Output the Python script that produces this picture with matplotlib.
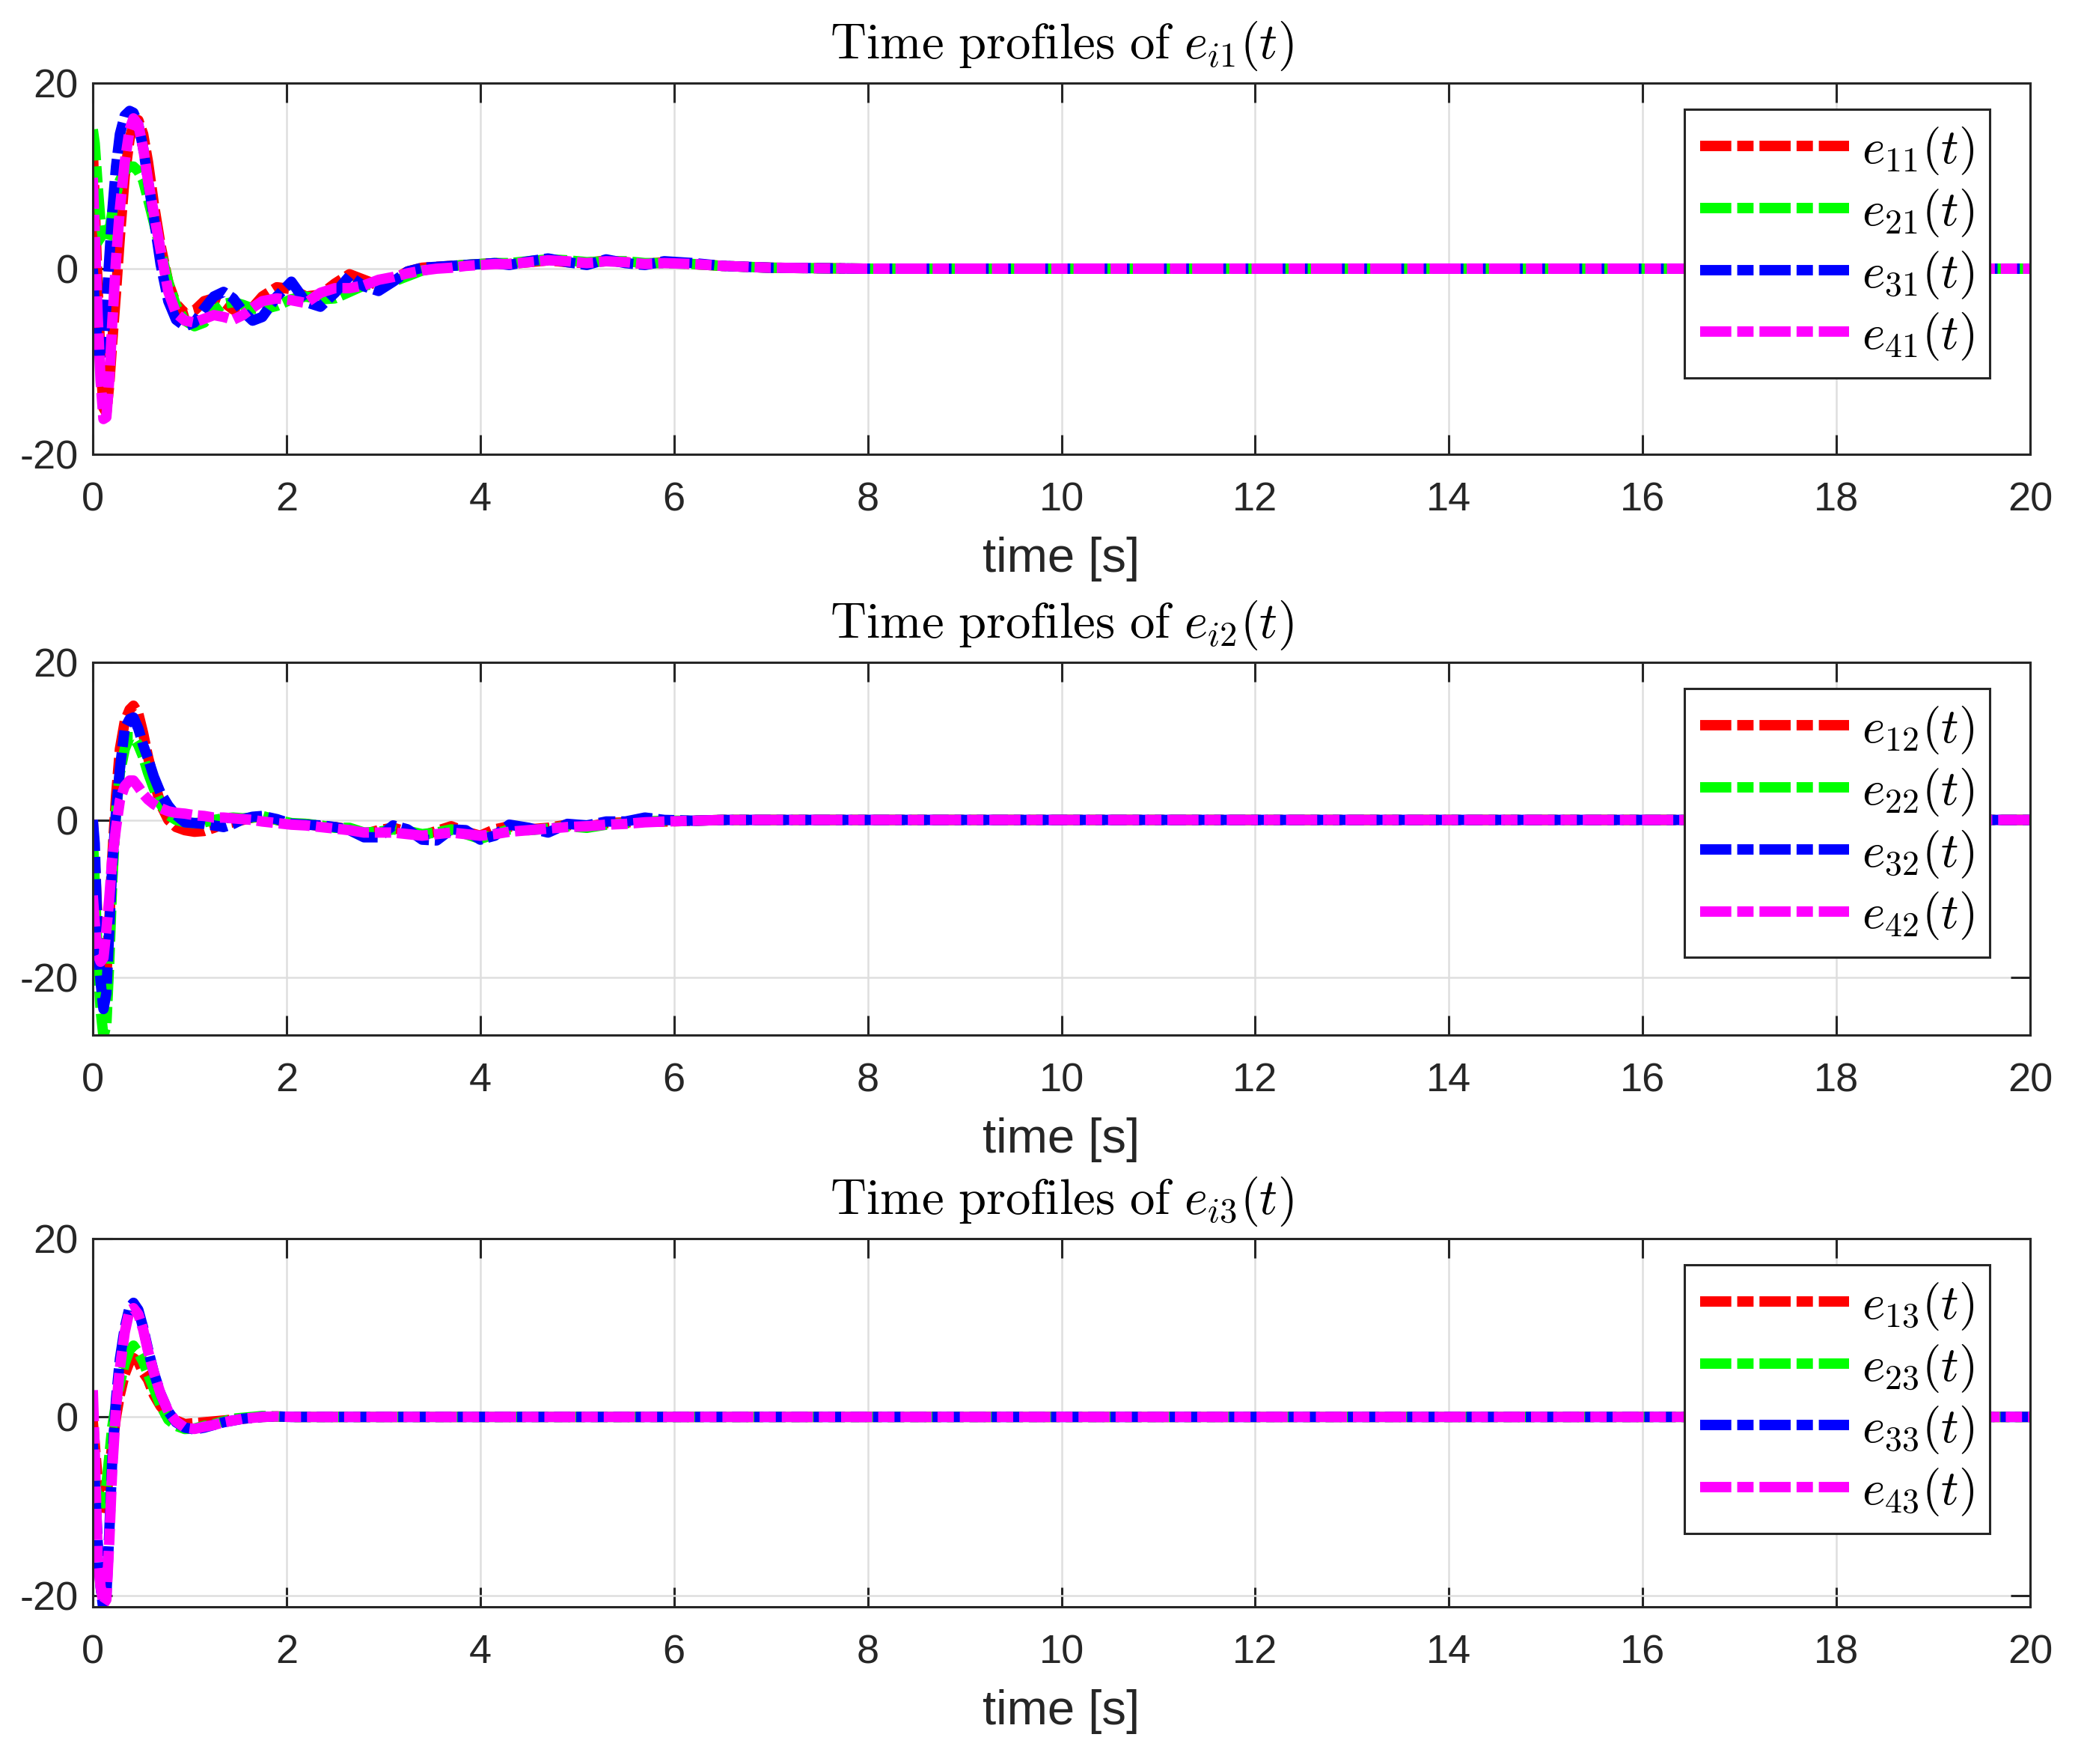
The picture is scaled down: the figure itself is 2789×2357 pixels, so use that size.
import matplotlib
matplotlib.use("Agg")
import matplotlib.pyplot as plt

plt.rcParams['font.family'] = ['Liberation Sans', 'DejaVu Sans']
plt.rcParams['mathtext.fontset'] = 'cm'
plt.rcParams['axes.unicode_minus'] = False

# --- time samples (s), shared by all series
t = [0, 0.02, 0.05, 0.08, 0.11, 0.14, 0.17, 0.2,
     0.24, 0.28, 0.33, 0.38, 0.42, 0.47, 0.52, 0.57,
     0.63, 0.7, 0.78, 0.86, 0.95, 1.05, 1.15, 1.25,
     1.35, 1.45, 1.55, 1.65, 1.75, 1.9, 2.05, 2.2,
     2.35, 2.5, 2.65, 2.8, 2.95, 3.1, 3.25, 3.4,
     3.55, 3.7, 3.85, 4.0, 4.15, 4.3, 4.5, 4.7,
     4.9, 5.1, 5.3, 5.5, 5.7, 5.9, 6.2, 6.5,
     7.0, 8.0, 20]

# --- e_i1
e11 = [13, 7, -2, -10, -15, -15.5, -12.5, -8,
       -2.5, 3.5, 10, 14, 15.5, 16, 14.5, 11.5,
       7, 2.5, -1.5, -3.8, -4.8, -4.5, -3.5, -3.2,
       -3.6, -4.4, -4.8, -4.2, -3.0, -2.0, -2.2, -3.0,
       -2.8, -1.6, -0.6, -1.2, -1.8, -1.2, -0.3, 0.1,
       0.2, 0.3, 0.4, 0.5, 0.6, 0.5, 0.7, 0.9,
       0.7, 0.6, 0.9, 0.7, 0.5, 0.7, 0.5, 0.3,
       0.1, 0, 0]
e21 = [15, 13.5, 9, 5, 3, 2.8, 4, 6,
       8, 9.5, 10.5, 11, 11, 10.5, 9.5, 7.5,
       5, 2, -1.5, -4, -5.6, -6.2, -5.8, -4.6,
       -3.8, -3.6, -3.9, -4.3, -4.4, -4.0, -3.3, -3.0,
       -3.3, -3.2, -2.5, -1.8, -1.6, -1.4, -0.8, -0.2,
       0.1, 0.3, 0.4, 0.5, 0.6, 0.6, 0.8, 1.0,
       0.9, 0.7, 0.8, 0.8, 0.6, 0.6, 0.5, 0.3,
       0.1, 0, 0]
e31 = [0, -4, -8.5, -9.7, -8, -4, 1, 6,
       11, 14.5, 16.5, 17, 16.8, 15.5, 13, 9.5,
       5.5, 0.5, -3.5, -5.5, -6.2, -5.8, -4.3, -3.0,
       -2.5, -3.2, -4.6, -5.6, -5.2, -3.0, -1.4, -3.6,
       -4.1, -2.6, -0.8, -1.9, -2.4, -1.4, -0.3, 0.1,
       0.2, 0.3, 0.4, 0.5, 0.6, 0.4, 0.8, 1.1,
       0.7, 0.4, 1.0, 0.6, 0.4, 0.8, 0.6, 0.3,
       0.1, 0, 0]
e41 = [9.8, 4, -5, -12, -16.2, -16, -12, -6,
       1, 6.5, 11.5, 15, 16.2, 15.5, 13, 9.5,
       6, 2, -2.5, -4.8, -5.6, -5.8, -5.4, -5.0,
       -5.2, -5.5, -5.0, -4.2, -3.5, -3.2, -3.4, -3.7,
       -2.6, -2.1, -2.1, -1.8, -1.2, -0.9, -0.5, -0.2,
       0, 0.1, 0.3, 0.4, 0.5, 0.5, 0.7, 0.9,
       0.8, 0.6, 0.8, 0.7, 0.5, 0.6, 0.5, 0.3,
       0.1, 0, 0]

# --- e_i2
e12 = [0, -5, -13, -19, -22, -20, -13, -5,
       3, 9, 12.5, 14, 14.5, 13.5, 11, 8,
       5, 2, 0, -0.9, -1.3, -1.5, -1.4, -1.0,
       -0.5, -0.3, 0.0, 0.3, 0.4, 0, -0.5, -0.5,
       -0.8, -0.9, -1.2, -1.8, -1.3, -1.0, -1.5, -2.0,
       -1.4, -0.8, -1.5, -2.0, -1.2, -0.8, -1.2, -1.0,
       -0.6, -0.9, -0.4, -0.3, -0.2, -0.2, -0.1, 0,
       0, 0, 0]
e22 = [-2, -8, -17, -24, -27.5, -26, -18, -8,
       1, 6, 9, 10.5, 10.5, 9.5, 8, 6,
       4, 2, 0.6, 0, -0.3, -0.4, -0.3, 0,
       0.2, 0.3, 0.2, 0.3, 0.5, 0, -0.4, -0.5,
       -0.7, -1.0, -1.0, -1.6, -1.5, -1.2, -1.4, -1.8,
       -1.6, -1.2, -1.8, -2.4, -1.8, -1.2, -1.3, -1.1,
       -0.8, -1.0, -0.6, -0.4, -0.2, -0.1, -0.1, 0,
       0, 0, 0]
e32 = [0, -3, -15, -20.5, -24, -22, -14, -6,
       1, 6.5, 11.6, 12.8, 13, 11.6, 9.5, 7.8,
       5.5, 3.4, 1.8, 0.6, -0.3, -0.4, -0.5, -0.7,
       -0.9, -0.5, 0.1, 0.4, 0.5, 0.1, -0.5, -0.6,
       -0.7, -0.9, -1.3, -2.2, -2.2, -0.7, -1.2, -2.5,
       -2.6, -1.2, -1.3, -2.5, -2.0, -0.6, -1.0, -1.6,
       -0.5, -0.7, -0.2, -0.2, 0.3, 0, -0.1, 0,
       0, 0, 0]
e42 = [-9.6, -13, -17, -18, -17.5, -14, -10, -5,
       -1, 2.5, 4.3, 5, 5, 4.2, 3.3, 2.6,
       2, 1.5, 1.1, 0.9, 0.8, 0.6, 0.5, 0.3,
       0.3, 0.2, 0.1, 0, -0.2, -0.4, -0.6, -0.7,
       -0.9, -1.1, -1.3, -1.6, -1.6, -1.6, -1.8, -2.0,
       -1.8, -1.6, -1.8, -2.0, -1.8, -1.5, -1.3, -1.1,
       -0.9, -0.8, -0.6, -0.5, -0.3, -0.2, -0.1, 0,
       0, 0, 0]

# --- e_i3
e13 = [-0.5, -3, -7, -10, -11, -9, -6, -3.2,
       0, 2.5, 4.8, 6.2, 6.6, 6.2, 5, 4.2,
       2.5, 1.2, 0.2, -0.4, -0.8, -0.7, -0.6, -0.5,
       -0.4, -0.3, -0.2, -0.1, 0, 0.05, 0, 0,
       0, 0, 0, 0, 0, 0, 0, 0,
       0, 0, 0, 0, 0, 0, 0, 0,
       0, 0, 0, 0, 0, 0, 0, 0,
       0, 0, 0]
e23 = [-5.3, -7.3, -8.9, -9.5, -9.7, -7.7, -4.5, -1.2,
       1.5, 3.8, 6, 7.5, 8, 7.2, 6.2, 4.8,
       3.2, 1.3, -0.3, -1.0, -1.35, -1.3, -1.0, -0.8,
       -0.5, -0.2, -0.1, 0, 0.1, 0.05, 0, 0,
       0, 0, 0, 0, 0, 0, 0, 0,
       0, 0, 0, 0, 0, 0, 0, 0,
       0, 0, 0, 0, 0, 0, 0, 0,
       0, 0, 0]
e33 = [-3, -7, -14, -19, -21.7, -20, -13, -5,
       2, 6.5, 10, 12.3, 12.8, 12, 10, 7.6,
       5, 2.6, 0.6, -0.6, -1.2, -1.4, -1.2, -0.9,
       -0.6, -0.4, -0.2, -0.1, 0, 0.05, 0, 0,
       0, 0, 0, 0, 0, 0, 0, 0,
       0, 0, 0, 0, 0, 0, 0, 0,
       0, 0, 0, 0, 0, 0, 0, 0,
       0, 0, 0]
e43 = [3, -3.7, -15.7, -19, -21, -20.5, -14, -6,
       1, 5.5, 9.5, 12, 12.2, 11.5, 9.8, 7.4,
       5, 2.6, 0.6, -0.5, -1.2, -1.35, -1.1, -0.9,
       -0.6, -0.4, -0.2, -0.1, 0, 0.05, 0, 0,
       0, 0, 0, 0, 0, 0, 0, 0,
       0, 0, 0, 0, 0, 0, 0, 0,
       0, 0, 0, 0, 0, 0, 0, 0,
       0, 0, 0]

panels = [
    ("1", [e11, e21, e31, e41], (-20, 20)),
    ("2", [e12, e22, e32, e42], (-27.3, 20)),
    ("3", [e13, e23, e33, e43], (-21.3, 20)),
]
colors = ['#ff0000', '#00ff00', '#0000ff', '#ff00ff']
dashdot = (0, (3.0, 0.57, 1.57, 0.57))
dark = '#262626'

W, H = 2789, 2357
fig = plt.figure(figsize=(W / 200, H / 200), dpi=200)

# axes boxes in pixels: (top, bottom)
boxes = [(111, 607), (885, 1383), (1655, 2147)]
x0, x1 = 124, 2713

for (k, series, ylim), (top, bot) in zip(panels, boxes):
    ax = fig.add_axes([x0 / W, 1 - bot / H, (x1 - x0) / W, (bot - top) / H])
    for i, (y, c) in enumerate(zip(series, colors)):
        ax.plot(t, y, color=c, lw=5.0, linestyle=dashdot,
                label=r'$e_{%d%s}(t)$' % (i + 1, k))
    ax.set_xlim(0, 20)
    ax.set_ylim(*ylim)
    ax.set_xticks(range(0, 21, 2))
    ax.set_yticks([-20, 0, 20])
    ax.grid(True, color='#dedede', linewidth=0.9)
    ax.set_axisbelow(True)
    ax.tick_params(direction='in', length=9.4, width=1.1, top=True, right=True,
                   labelsize=19.5, colors=dark)
    ax.tick_params(axis='x', pad=13)
    ax.tick_params(axis='y', pad=7)
    for s in ax.spines.values():
        s.set_linewidth(1.1)
        s.set_color(dark)
    ax.set_xlabel('time [s]', fontsize=23.5, labelpad=8.5, color=dark)
    ax.set_title(r'$\mathrm{Time\ profiles\ of}\ e_{i%s}(t)$' % k,
                 fontsize=24, pad=12, color='black')
    leg = ax.legend(loc='upper right', bbox_to_anchor=(0.979, 0.929),
                    borderaxespad=0, fontsize=23.5, handlelength=3.06,
                    handletextpad=0.25, labelspacing=0.21, borderpad=0.32,
                    fancybox=False, framealpha=1, edgecolor=dark)
    leg.get_frame().set_linewidth(1.1)

fig.savefig('out.png', dpi=200)
